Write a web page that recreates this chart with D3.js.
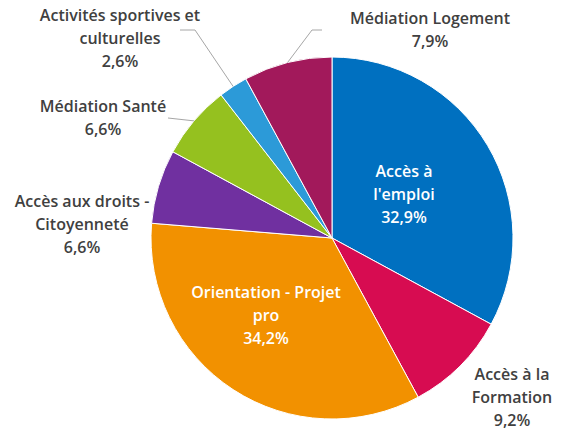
<!DOCTYPE html>
<html>
<head>
<meta charset="utf-8">
<script src="https://cdn.jsdelivr.net/npm/d3@7"></script>
<style>
  body { margin: 0; background: #fff; }
  svg text { font-family: "Open Sans", Lato, sans-serif; font-size: 16px; font-weight: 600; }
</style>
</head>
<body>
<svg id="chart" width="564" height="437"></svg>
<script>
// Chart data (clockwise from 12 o'clock)
const categories = [
  "Accès à l'emploi",
  "Accès à la Formation",
  "Orientation - Projet pro",
  "Accès aux droits - Citoyenneté",
  "Médiation Santé",
  "Activités sportives et culturelles",
  "Médiation Logement"
];
const values = [32.9, 9.2, 34.2, 6.6, 6.6, 2.6, 7.9];
const labelLines = [
  ["Accès à", "l'emploi"],
  ["Accès à la", "Formation"],
  ["Orientation - Projet", "pro"],
  ["Accès aux droits -", "Citoyenneté"],
  ["Médiation Santé"],
  ["Activités sportives et", "culturelles"],
  ["Médiation Logement"]
];
const colors = ["#0070c0", "#d70c51", "#f29100", "#7030a0", "#95c11f", "#2c9ad8", "#a2195b"];

// label layout (centre x, first baseline) and leader line bend points
const labelPos = [
  [404, 177], [512, 380], [266, 298], [82, 207], [103, 112], [120, 21], [430, 24]
];
const leaders = {
  4: [[168, 118]],
  5: [[195, 30], [180, 30]],
  6: [[312, 30], [322, 30]]
};

const cx = 332, cy = 238, r = 181;
const lineH = 23;

const svg = d3.select('#chart');
const g = svg.append('g').attr('transform', `translate(${cx},${cy})`);

const pie = d3.pie().sort(null).value(d => d);
const arcs = pie(values);
const arc = d3.arc().innerRadius(0).outerRadius(r);

g.selectAll('path.slice')
  .data(arcs)
  .enter()
  .append('path')
  .attr('class', 'slice')
  .attr('d', arc)
  .attr('fill', (d, i) => colors[i])
  .attr('stroke', '#fff')
  .attr('stroke-width', 1);

// leader lines
Object.keys(leaders).forEach(k => {
  const a = arcs[k];
  const mid = (a.startAngle + a.endAngle) / 2;
  const start = [cx + r * Math.sin(mid), cy - r * Math.cos(mid)];
  const pts = [start].concat(leaders[k]);
  svg.append('path')
    .attr('d', d3.line()(pts))
    .attr('fill', 'none')
    .attr('stroke', '#a6a6a6')
    .attr('stroke-width', 1);
});

// labels
const fmt = v => d3.format('.1f')(v).replace('.', ',') + '%';
arcs.forEach((a, i) => {
  const inside = i === 0 || i === 2;
  const lines = labelLines[i].concat([fmt(values[i])]);
  const t = svg.append('text')
    .attr('text-anchor', 'middle')
    .attr('fill', inside ? '#fff' : '#404040');
  lines.forEach((s, j) => {
    t.append('tspan')
      .attr('x', labelPos[i][0])
      .attr('y', labelPos[i][1] + j * lineH)
      .text(s);
  });
});
</script>
</body>
</html>
